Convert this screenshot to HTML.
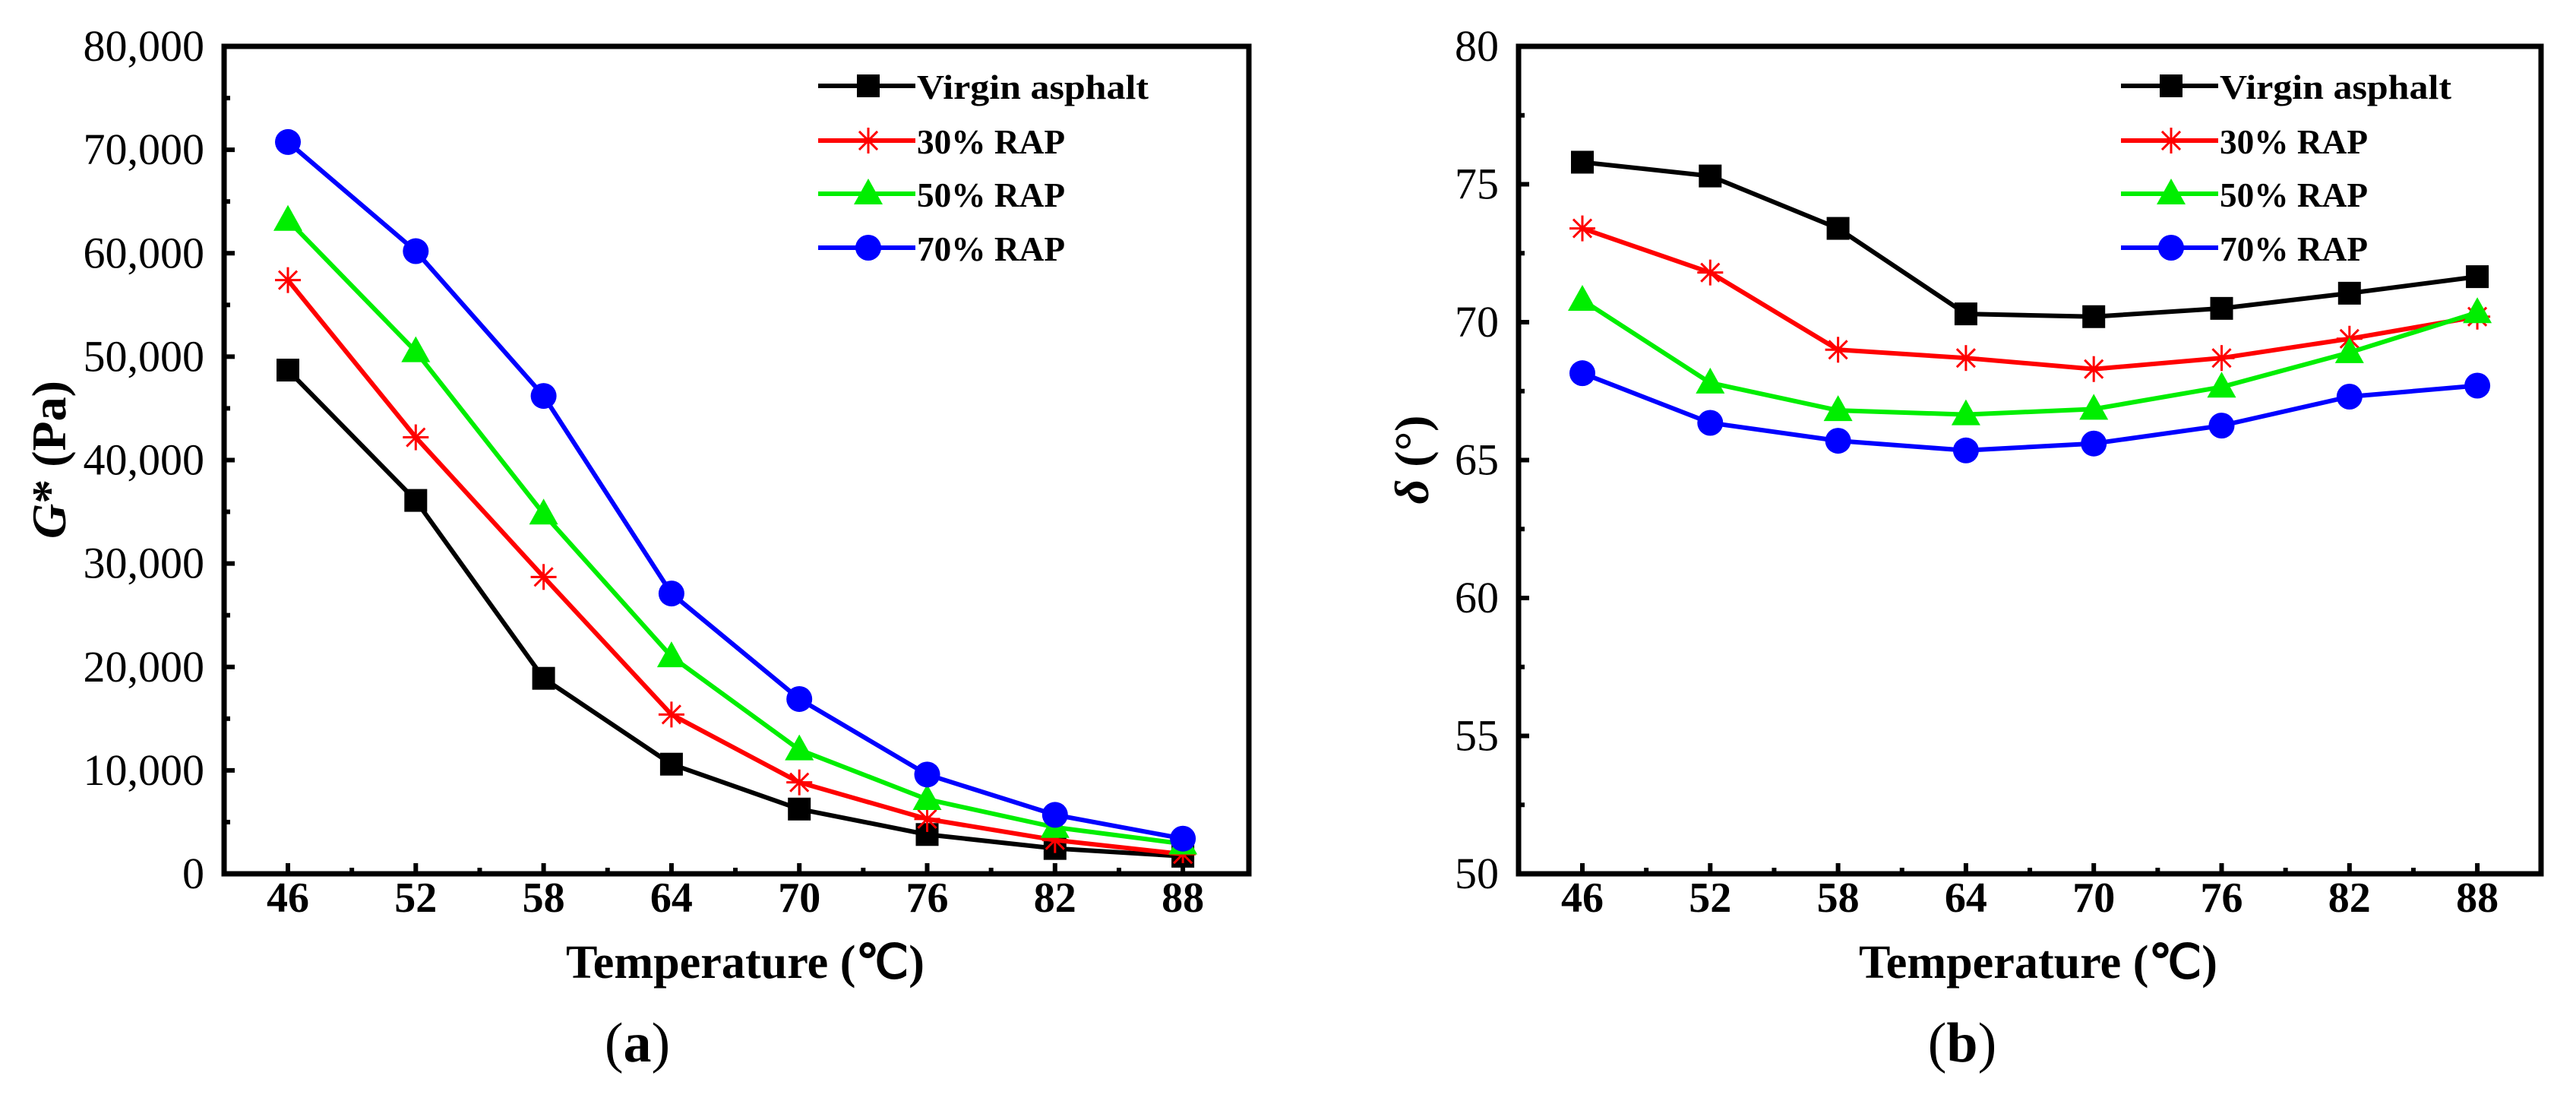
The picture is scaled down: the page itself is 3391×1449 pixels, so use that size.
<!DOCTYPE html>
<html><head><meta charset="utf-8"><style>
html,body{margin:0;padding:0;background:#fff;}
svg{display:block;font-family:"Liberation Serif",serif;}
</style></head><body>
<svg id="fig" width="3391" height="1449" viewBox="0 0 3391 1449" xmlns="http://www.w3.org/2000/svg"></svg>
<script>
const temps = [46, 52, 58, 64, 70, 76, 82, 88];
const seriesNames = ["Virgin asphalt", "30% RAP", "50% RAP", "70% RAP"];
const gVirgin = [48700, 36100, 18900, 10600, 6260, 3800, 2450, 1700];
const g30 = [57400, 42200, 28700, 15400, 8840, 5300, 3260, 1900];
const g50 = [63200, 50500, 34800, 21000, 12000, 7200, 4500, 2900];
const g70 = [70750, 60200, 46200, 27100, 16900, 9600, 5700, 3400];
const dVirgin = [75.8, 75.3, 73.4, 70.3, 70.2, 70.5, 71.05, 71.65];
const d30 = [73.4, 71.8, 69.0, 68.7, 68.3, 68.7, 69.4, 70.2];
const d50 = [70.8, 67.8, 66.8, 66.65, 66.85, 67.65, 68.9, 70.35];
const d70 = [68.15, 66.35, 65.7, 65.35, 65.6, 66.25, 67.3, 67.7];
const gTicks = ["0","10,000","20,000","30,000","40,000","50,000","60,000","70,000","80,000"];
const dTicks = ["50","55","60","65","70","75","80"];

const NS = "http://www.w3.org/2000/svg";
const svg = document.getElementById("fig");
function el(tag, attrs, parent, text){
  const e = document.createElementNS(NS, tag);
  for (const k in attrs) e.setAttribute(k, attrs[k]);
  if (text !== undefined) e.textContent = text;
  (parent || svg).appendChild(e);
  return e;
}
const colors = ["#000000", "#ff0000", "#00ee00", "#0000ff"];
const markers = ["square", "star", "tri", "circle"];
const legendWidths = [305, 195, 195, 195];

function marker(g, type, x, y, c){
  let m;
  if (type === "square") m = el("rect", {x:x-15, y:y-15, width:30, height:30, fill:c}, g);
  else if (type === "circle") m = el("circle", {cx:x, cy:y, r:17, fill:c}, g);
  else if (type === "tri") m = el("polygon", {points:`${x},${y-20} ${x-19},${y+14} ${x+19},${y+14}`, fill:c}, g);
  else {
    m = el("g", {stroke:c, "stroke-width":3}, g);
    for (let a = 0; a < 4; a++){
      const ang = a*Math.PI/4, dx = 17*Math.cos(ang), dy = 17*Math.sin(ang);
      el("line", {x1:x-dx, y1:y-dy, x2:x+dx, y2:y+dy}, m);
    }
  }
  
  
}

function chart(cfg){
  const {L, R, T, B, yMin, yMax, ticks, minorStep, majorStep, data, yTitle, panel, legX, titleX, ytX, name} = cfg;
  const g = el("g", {});
  
  
  const x0 = L + 84, step = 168.3;
  const xs = t => x0 + (t - temps[0]) / 6 * step;
  const ys = v => B - (v - yMin) / (yMax - yMin) * (B - T);
  data.forEach((arr, si) => {
    const sg = el("g", {}, g);
    
    
    const pts = arr.map((v, i) => xs(temps[i]) + "," + ys(v)).join(" ");
    const pl = el("polyline", {points:pts, fill:"none", stroke:colors[si], "stroke-width":6, "stroke-linejoin":"round"}, sg);
    
    
    arr.forEach((v, i) => marker(sg, markers[si], xs(temps[i]), ys(v), colors[si]));
  });
  const fr = el("rect", {x:L, y:T, width:R-L, height:B-T, fill:"none", stroke:"#000", "stroke-width":7}, g);
  
  
  temps.forEach((t, i) => {
    const x = xs(t);
    el("line", {x1:x, y1:B, x2:x, y2:B-14, stroke:"#000", "stroke-width":6}, g);
    if (i < temps.length - 1) el("line", {x1:x+step/2, y1:B, x2:x+step/2, y2:B-8, stroke:"#000", "stroke-width":6}, g);
    const tl = el("text", {x:x, y:B+50, "text-anchor":"middle", "font-size":56, "font-weight":"bold"}, g, String(t));
    
    
  });
  ticks.forEach((lab, i) => {
    const v = yMin + i * majorStep, y = ys(v);
    el("line", {x1:L, y1:y, x2:L+14, y2:y, stroke:"#000", "stroke-width":6}, g);
    if (i < ticks.length - 1) { const ym = ys(v + minorStep); el("line", {x1:L, y1:ym, x2:L+8, y2:ym, stroke:"#000", "stroke-width":6}, g); }
    const tl = el("text", {x:L-26, y:y+19, "text-anchor":"end", "font-size":58}, g, lab);
    
    
  });
  const xt = el("text", {x:titleX, y:1287, "text-anchor":"middle", "font-size":62, "font-weight":"bold", textLength:472, lengthAdjust:"spacingAndGlyphs"}, g, "Temperature (℃)");
  
  
  const yt = el("text", {x:0, y:0, transform:`translate(${ytX},605) rotate(-90)`, "text-anchor":"middle", "font-size":64, "font-weight":"bold"}, g);
  
  
  el("tspan", {"font-style":"italic"}, yt, yTitle[0]);
  el("tspan", {}, yt, yTitle[1]);
  const pn = el("text", {x:panel[0], y:1397, "text-anchor":"middle", "font-size":74}, g);
  
  
  el("tspan", {}, pn, "(");
  el("tspan", {"font-weight":"bold"}, pn, panel[1]);
  el("tspan", {}, pn, ")");
  const lg = el("g", {}, g);
  
  
  const rows = [113, 185, 255, 326];
  seriesNames.forEach((n, i) => {
    const eg = el("g", {}, lg);
    
    
    el("line", {x1:legX, y1:rows[i], x2:legX+128, y2:rows[i], stroke:colors[i], "stroke-width":6}, eg);
    marker(eg, markers[i], legX+66, rows[i], colors[i]);
    el("text", {x:legX+130, y:rows[i]+17, "font-size":46, "font-weight":"bold", textLength:legendWidths[i], lengthAdjust:"spacingAndGlyphs"}, eg, n);
  });
}

chart({name:"chart-a-complex-modulus", L:295, R:1644, T:61, B:1150, yMin:0, yMax:80000, ticks:gTicks, majorStep:10000, minorStep:5000,
  data:[gVirgin, g30, g50, g70], yTitle:["G","* (Pa)"], panel:[839,"a"], legX:1077, titleX:981, ytX:86});
chart({name:"chart-b-phase-angle", L:1999, R:3345, T:61, B:1150, yMin:50, yMax:80, ticks:dTicks, majorStep:5, minorStep:2.5,
  data:[dVirgin, d30, d50, d70], yTitle:["δ"," (°)"], panel:[2583,"b"], legX:2792, titleX:2683, ytX:1880});
</script>
</body></html>
